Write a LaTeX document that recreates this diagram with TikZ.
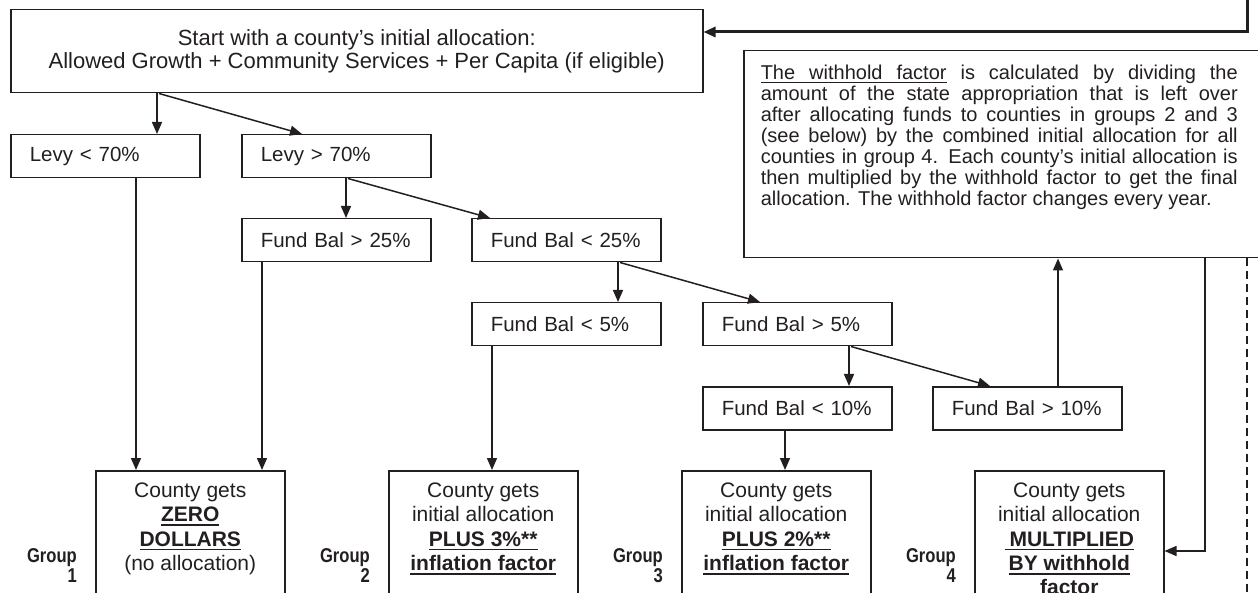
\documentclass[tikz,border=0pt]{standalone}
\usepackage{fontspec}
\setmainfont{Liberation Sans}
\newfontfamily\grpfont[FakeStretch=0.83]{Liberation Sans}
\usetikzlibrary{arrows.meta,calc}
\definecolor{ink}{RGB}{35,31,32}
\newcommand\bul[1]{\leavevmode\setbox0\hbox{#1}\rlap{\rule[-4.3pt]{\wd0}{1.8pt}}\box0\relax}
\newcommand\ulw[1]{\leavevmode\setbox0\hbox{#1}\rlap{\rule[-3.9pt]{\wd0}{1.1pt}}\box0\relax}
\newcommand\uls{\leaders\hrule height -2.8pt depth 3.9pt\hskip\fontdimen2\font plus\fontdimen3\font minus\fontdimen4\font\relax}
\begin{document}
\begin{tikzpicture}[x=1pt,y=-1pt,
  every node/.style={text=ink},
  bx/.style={draw=ink,line width=1.5pt,rectangle,inner sep=0pt},
  cond/.style={bx,minimum width=189pt,minimum height=43pt,text width=189pt,align=left,
    font=\fontsize{20.5}{22}\selectfont,anchor=north west},
  grpbox/.style={bx,anchor=north west},
  grp/.style={anchor=north east,inner sep=0pt,align=right,
    font=\grpfont\bfseries\fontsize{20}{20}\selectfont},
  conn/.style={draw=ink,line width=1.5pt,-{Triangle[length=12pt,width=10pt]}},
  dashln/.style={draw=ink,line width=1.3pt,dash pattern=on 8pt off 5pt}
]
\useasboundingbox (0,0) rectangle (1258,593);
\clip (0,0) rectangle (1258,593);

% top box
\node[bx,anchor=north west,minimum width=692pt,minimum height=83pt,align=center,
  font=\fontsize{22}{23}\selectfont] (top) at (10,9)
  {Start with a county’s initial allocation:\\Allowed Growth + Community Services + Per Capita (if eligible)};

% withhold box
\node[bx,anchor=north west] (wh) at (743,50)
  {\parbox[t][207pt][t]{540pt}{\vspace*{14pt}\fontsize{20}{21}\selectfont
   \leftskip=17pt\rightskip=46pt\parindent=0pt
   \ulw{The}\uls\ulw{withhold}\uls\ulw{factor} is calculated by dividing the\linebreak
   amount of the state appropriation that is left over\linebreak
   after allocating funds to counties in groups 2 and 3\linebreak
   (see below) by the combined initial allocation for all\linebreak
   counties in group 4. Each county’s initial allocation is\linebreak
   then multiplied by the withhold factor to get the final\linebreak
   allocation. The withhold factor changes every year.\par}};

% condition boxes
\node[cond] (levy1) at (10,134)  {\hspace*{19pt}Levy < 70\%};
\node[cond] (levy2) at (241,134) {\hspace*{19pt}Levy > 70\%};
\node[cond] (fb25g) at (241,218) {\hspace*{19pt}Fund Bal > 25\%};
\node[cond] (fb25l) at (471,218) {\hspace*{19pt}Fund Bal < 25\%};
\node[cond] (fb5l)  at (471,302) {\hspace*{19pt}Fund Bal < 5\%};
\node[cond] (fb5g)  at (702,302) {\hspace*{19pt}Fund Bal > 5\%};
\node[cond] (fb10l) at (702,386) {\hspace*{19pt}Fund Bal < 10\%};
\node[cond] (fb10g) at (932,386) {\hspace*{19pt}Fund Bal > 10\%};

% group boxes
\node[grpbox] (g1) at (95,470) {\parbox[t][150pt][t]{189pt}{\vspace*{12pt}\centering
  \fontsize{21}{24.3}\selectfont County gets\\\textbf{\bul{ZERO}}\\\textbf{\bul{DOLLARS}}\\(no allocation)\par}};
\node[grpbox] (g2) at (388,470) {\parbox[t][150pt][t]{189pt}{\vspace*{12pt}\centering
  \fontsize{21}{24.3}\selectfont County gets\\initial allocation\\\textbf{\bul{PLUS 3\%**}}\\\textbf{\bul{inflation factor}}\par}};
\node[grpbox] (g3) at (681,470) {\parbox[t][150pt][t]{189pt}{\vspace*{12pt}\centering
  \fontsize{21}{24.3}\selectfont County gets\\initial allocation\\\textbf{\bul{PLUS 2\%**}}\\\textbf{\bul{inflation factor}}\par}};
\node[grpbox] (g4) at (974,470) {\parbox[t][150pt][t]{189pt}{\vspace*{12pt}\centering
  \fontsize{21}{24.3}\selectfont County gets\\initial allocation\\\textbf{\bul{\hspace{5pt}MULTIPLIED}}\\\textbf{\bul{BY withhold}}\\\textbf{factor}\par}};

% group labels
\node[grp] (l1) at (77,548)  {Group\\1};
\node[grp] (l2) at (370,548) {Group\\2};
\node[grp] (l3) at (663,548) {Group\\3};
\node[grp] (l4) at (956,548) {Group\\4};

% connectors
\draw[conn] ([xshift=147pt]top.south west) -- ([xshift=147pt]levy1.north west);
\draw[conn] ([xshift=149pt]top.south west) -- ([xshift=61pt]levy2.north west);
\draw[conn] ([xshift=126pt]levy1.south west) -- ([xshift=41pt]g1.north west);
\draw[conn] ([xshift=105pt]levy2.south west) -- ([xshift=105pt]fb25g.north west);
\draw[conn] ([xshift=107pt]levy2.south west) -- ([xshift=19pt]fb25l.north west);
\draw[conn] ([xshift=21pt]fb25g.south west) -- ([xshift=167pt]g1.north west);
\draw[conn] ([xshift=147pt]fb25l.south west) -- ([xshift=147pt]fb5l.north west);
\draw[conn] ([xshift=149pt]fb25l.south west) -- ([xshift=58pt]fb5g.north west);
\draw[conn] ([xshift=21pt]fb5l.south west) -- ([xshift=104pt]g2.north west);
\draw[conn] ([xshift=147pt]fb5g.south west) -- ([xshift=147pt]fb10l.north west);
\draw[conn] ([xshift=149pt]fb5g.south west) -- ([xshift=58pt]fb10g.north west);
\draw[conn] ([xshift=83pt]fb10l.south west) -- ([xshift=104pt]g3.north west);
\draw[conn] ([xshift=126pt]fb10g.north west) -- ([xshift=315pt]wh.south west);
\draw[conn] ([xshift=462pt]wh.south west) |- ([yshift=-81pt]g4.north east);

\coordinate (rt) at (1247,-10);
\draw[conn,line width=3pt] (rt) |- ([yshift=-23pt]top.north east);
\coordinate (db) at (1247,610);
\draw[dashln] ([xshift=504pt]wh.south west) -- (db);
\end{tikzpicture}
\end{document}
